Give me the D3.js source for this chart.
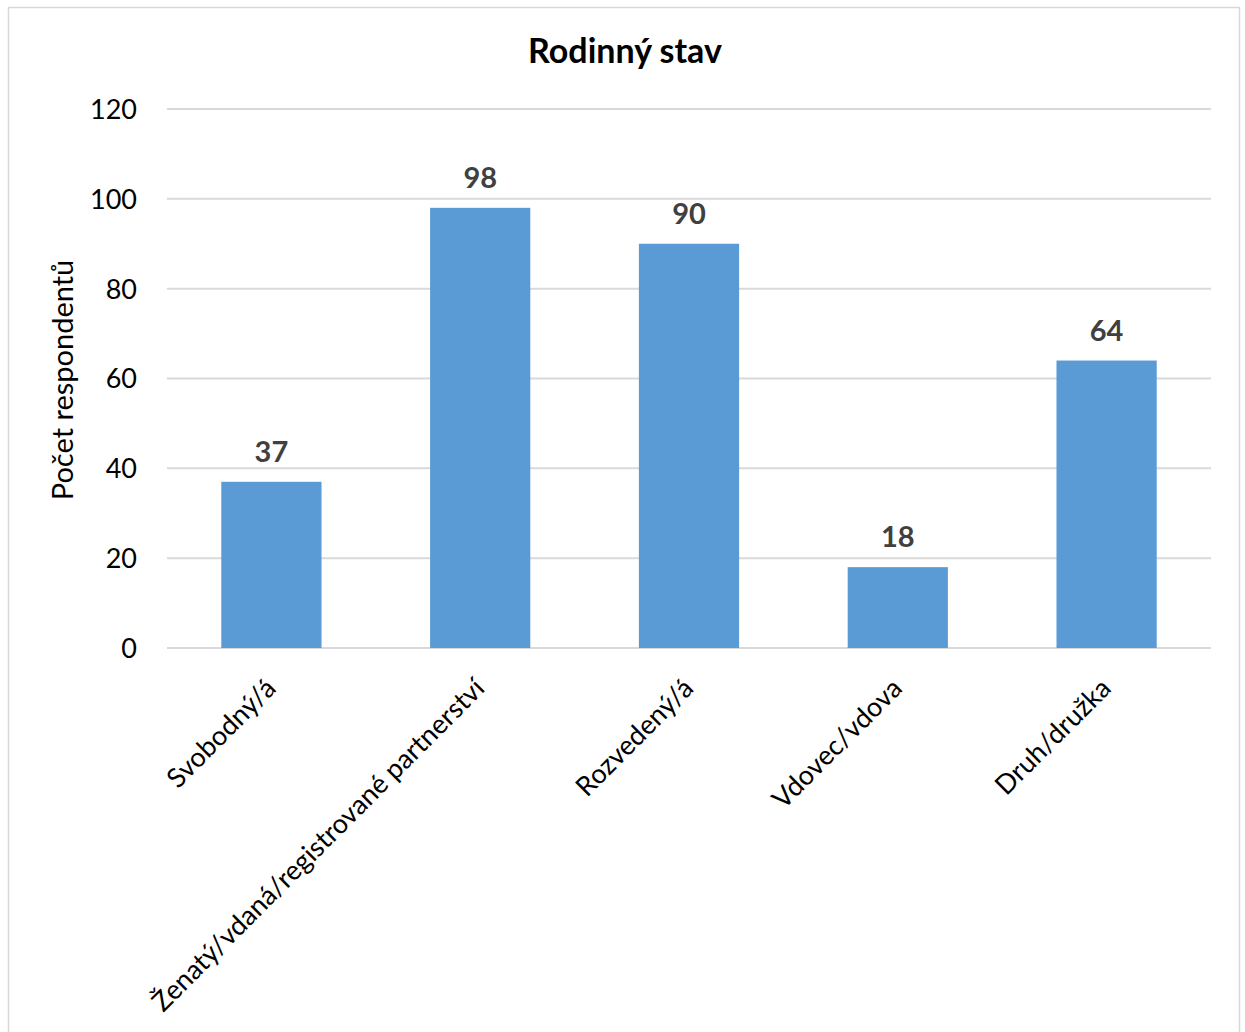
<!DOCTYPE html>
<html><head><meta charset="utf-8">
<script src="https://cdn.jsdelivr.net/npm/d3@7"></script>
<style>
html,body{margin:0;padding:0;background:#fff;}
svg text{font-family:Lato,"Open Sans",sans-serif;}
</style></head>
<body>
<svg id="chart" width="1245" height="1032"></svg>
<script>
const categories = ["Svobodný/á","Ženatý/vdaná/registrované partnerství","Rozvedený/á","Vdovec/vdova","Druh/družka"];
const values = [37, 98, 90, 18, 64];
const yTicks = [0, 20, 40, 60, 80, 100, 120];
const title = "Rodinný stav";
const yTitle = "Počet respondentů";

const svg = d3.select("#chart");
const m = {left:167, right:1211, top:109, bottom:648};

svg.append("rect").attr("x",8.5).attr("y",7.5).attr("width",1231).attr("height",1040)
  .attr("fill","#fff").attr("stroke","#d9d9d9").attr("stroke-width",1.5);

const x = d3.scaleBand().domain(categories).range([m.left, m.right]).paddingInner(0.52).paddingOuter(0.26);
const y = d3.scaleLinear().domain([0,120]).range([m.bottom, m.top]);

// gridlines
svg.append("g").selectAll("line").data(yTicks).join("line")
  .attr("x1",m.left).attr("x2",m.right)
  .attr("y1",d=>y(d)).attr("y2",d=>y(d))
  .attr("stroke","#d9d9d9").attr("stroke-width",2);

// y axis labels
const yAxis = d3.axisLeft(y).tickValues(yTicks).tickSize(0).tickPadding(30);
const gy = svg.append("g").attr("transform",`translate(${m.left},0)`).call(yAxis);
gy.select(".domain").remove();
gy.selectAll("text").attr("font-size",27).attr("fill","#000").attr("font-family","Lato").attr("dy","0.35em");

// bars
svg.append("g").selectAll("rect").data(values).join("rect")
  .attr("x",(d,i)=>x(categories[i]))
  .attr("width",x.bandwidth())
  .attr("y",d=>y(d))
  .attr("height",d=>y(0)-y(d))
  .attr("fill","#5b9bd5");

// data labels
svg.append("g").selectAll("text").data(values).join("text")
  .attr("x",(d,i)=>x(categories[i])+x.bandwidth()/2)
  .attr("y",d=>y(d)-20)
  .attr("text-anchor","middle")
  .attr("font-size",29).attr("font-weight","bold").attr("fill","#404040")
  .text(d=>d);

// x axis labels
const xAxis = d3.axisBottom(x).tickSize(0).tickPadding(0);
const gx = svg.append("g").attr("transform",`translate(0,${m.bottom})`).call(xAxis);
gx.select(".domain").remove();
gx.selectAll("text")
  .attr("font-size",27).attr("fill","#000").attr("font-family","Lato")
  .attr("text-anchor","end")
  .attr("dy",null).attr("y",null)
  .attr("transform","translate(6,42) rotate(-45)");

// title
svg.append("text").attr("x",625).attr("y",63).attr("text-anchor","middle")
  .attr("font-size",34).attr("font-weight","bold").attr("fill","#000").text(title);

// y title
svg.append("text").attr("transform",`translate(73,380) rotate(-90)`)
  .attr("text-anchor","middle").attr("font-size",29).attr("fill","#000").text(yTitle);
</script>
</body></html>
